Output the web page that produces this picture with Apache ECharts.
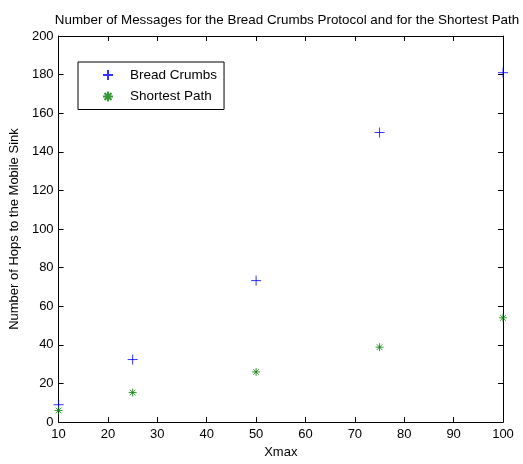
<!DOCTYPE html>
<html><head><meta charset="utf-8">
<script src="https://cdn.jsdelivr.net/npm/echarts@6/dist/echarts.min.js"></script>
<style>html,body{margin:0;padding:0;background:#fff}#c{width:523px;height:464px}</style>
</head><body><div id="c"></div>
<script>
var xmax = [10, 25, 50, 75, 100];
var breadCrumbs = [9, 32.4, 73.3, 150, 181];
var shortestPath = [6, 15.3, 26, 38.8, 54];
var xTicks = [10, 20, 30, 40, 50, 60, 70, 80, 90, 100];
var yTicks = [0, 20, 40, 60, 80, 100, 120, 140, 160, 180, 200];

var plusPath = 'path://M0,-10L0,10M-10,0L10,0';
var starPath = 'path://M0,-10L0,10M-10,0L10,0M-7,-7L7,7M-7,7L7,-7';
var font = 'Liberation Sans, Arial, sans-serif';

var chart = echarts.init(document.getElementById('c'), null, {renderer: 'canvas'});
function pairs(xs, ys){ return xs.map(function(x,i){return [x, ys[i]];}); }
var axisCommon = {
  axisLine: {show: true, onZero: false, lineStyle: {color: '#000', width: 1}},
  axisTick: {show: true, inside: true, length: 5, lineStyle: {color: '#000'}},
  splitLine: {show: false}
};
chart.setOption({
  animation: false,
  title: {text: 'Number of Messages for the Bread Crumbs Protocol and for the Shortest Path', left: 282, textAlign: 'center', top: 9,
    textStyle: {fontFamily: font, fontSize: 13.4, fontWeight: 'normal', color: '#000'}},
  grid: {left: 57, right: 20, top: 36, bottom: 37.5},
  legend: {
    orient: 'vertical', left: 78, top: 62, data: ['Bread Crumbs', 'Shortest Path'],
    borderColor: '#000', borderWidth: 1, padding: [6, 7, 6, 24], itemGap: 7.5,
    itemWidth: 34, itemHeight: 10,
    textStyle: {fontFamily: font, fontSize: 13.5, color: '#000'},
    backgroundColor: '#fff'
  },
  xAxis: [
    Object.assign({type: 'value', min: 10, max: 100, interval: 10, position: 'bottom',
      name: 'Xmax', nameLocation: 'middle', nameGap: 23,
      nameTextStyle: {fontFamily: font, fontSize: 13, color: '#000'},
      axisLabel: {fontFamily: font, fontSize: 13, color: '#000', margin: 6}}, axisCommon),
    Object.assign({type: 'value', min: 10, max: 100, interval: 10, position: 'top',
      axisLabel: {show: false}}, axisCommon)
  ],
  yAxis: [
    Object.assign({type: 'value', min: 0, max: 200, interval: 20, position: 'left',
      name: 'Number of Hops to the Mobile Sink', nameLocation: 'middle', nameGap: 35,
      nameTextStyle: {fontFamily: font, fontSize: 13, color: '#000'},
      axisLabel: {fontFamily: font, fontSize: 13, color: '#000', margin: 5}}, axisCommon),
    Object.assign({type: 'value', min: 0, max: 200, interval: 20, position: 'right',
      axisLabel: {show: false}}, axisCommon)
  ],
  series: [
    {name: 'Bread Crumbs', type: 'scatter', data: pairs(xmax, breadCrumbs), symbol: plusPath, symbolSize: 10,
      itemStyle: {color: '#0000ff', borderColor: '#0000ff', borderWidth: 1}},
    {name: 'Shortest Path', type: 'scatter', data: pairs(xmax, shortestPath), symbol: starPath, symbolSize: 8,
      itemStyle: {color: '#008000', borderColor: '#008000', borderWidth: 1}}
  ]
});
</script></body></html>
